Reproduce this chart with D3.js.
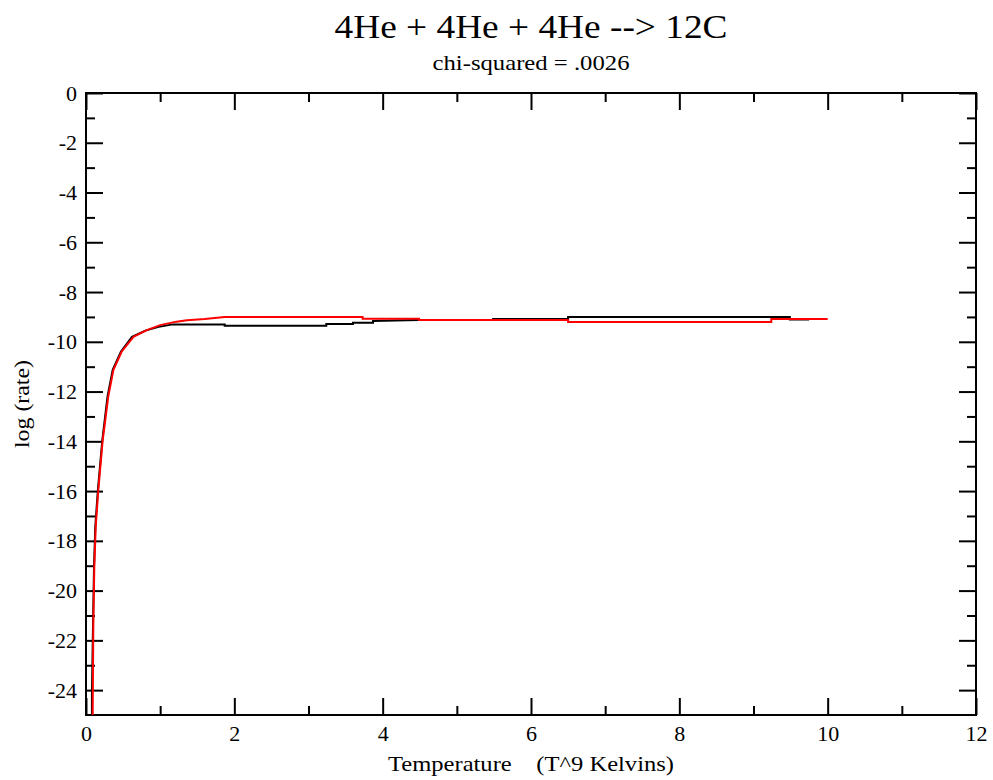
<!DOCTYPE html>
<html>
<head>
<meta charset="utf-8">
<script src="https://cdn.jsdelivr.net/npm/d3@7"></script>
<style>
  body { margin: 0; background: #fff; }
  svg text { font-family: "Liberation Serif", "DejaVu Serif", serif; fill: #000; }
</style>
</head>
<body>
<div id="chart"></div>
<script>
////data
const tempRed = [0.09, 0.099, 0.112, 0.131, 0.166, 0.225, 0.243, 0.30, 0.37, 0.48, 0.64, 0.82, 1.0, 1.22, 1.36, 1.6, 1.87, 3.73, 3.73, 4.49, 4.49, 6.5, 6.5, 9.24, 9.24, 10.0];
const rateRed = [-25, -21.3, -19.05, -17.44, -15.96, -13.95, -13.55, -12.2, -11.13, -10.4, -9.8, -9.53, -9.33, -9.19, -9.13, -9.08, -9.0, -9.0, -9.07, -9.07, -9.12, -9.12, -9.2, -9.2, -9.08, -9.08];

const tempBlack = [0.08, 0.08, 0.095, 0.108, 0.125, 0.16, 0.22, 0.29, 0.36, 0.47, 0.62, 0.80, 0.98, 1.17, 1.87, 1.87, 3.24, 3.24, 3.6, 3.6, 3.87, 3.87, 4.49, 5.49, 5.49, 6.5, 6.5, 9.49, 9.49, 9.75];
const rateBlack = [-25, -24.2, -21.3, -19.05, -17.44, -15.96, -13.95, -12.2, -11.13, -10.4, -9.8, -9.55, -9.4, -9.3, -9.3, -9.35, -9.35, -9.28, -9.28, -9.23, -9.23, -9.16, -9.12, -9.12, -9.08, -9.08, -9.0, -9.0, -9.1, -9.1];

const xTicks = [0, 2, 4, 6, 8, 10, 12];
const yTicks = [0, -2, -4, -6, -8, -10, -12, -14, -16, -18, -20, -22, -24];

const margin = {top: 93, right: 17, bottom: 65, left: 86};
const width = 993 - margin.left - margin.right;
const height = 780 - margin.top - margin.bottom;

const svg = d3.select('#chart').append('svg')
    .attr('width', 993)
    .attr('height', 780);

const g = svg.append('g')
    .attr('transform', `translate(${margin.left},${margin.top})`);

const x = d3.scaleLinear().domain([0, 12]).range([0, width]);
const y = d3.scaleLinear().domain([-25, 0]).range([height, 0]);

////minor ticks on the odd values
const xMinor = d3.range(1, 12, 2);
const yMinor = d3.range(-1, -25, -2);

const major = 17, minor = 9;
const fmt = d => String(d);   ////plain hyphen, not the unicode minus

// bottom + top
g.append('g').attr('transform', `translate(0,${height})`)
  .call(d3.axisBottom(x).tickValues(xTicks).tickSize(-major).tickPadding(10).tickFormat(fmt));
g.append('g').attr('transform', `translate(0,${height})`)
  .call(d3.axisBottom(x).tickValues(xMinor).tickSize(-minor).tickFormat(''));
g.append('g')
  .call(d3.axisTop(x).tickValues(xTicks).tickSize(-major).tickFormat(''));
g.append('g')
  .call(d3.axisTop(x).tickValues(xMinor).tickSize(-minor).tickFormat(''));

// left + right
g.append('g')
  .call(d3.axisLeft(y).tickValues(yTicks).tickSize(-major).tickPadding(9).tickFormat(fmt));
g.append('g')
  .call(d3.axisLeft(y).tickValues(yMinor).tickSize(-minor).tickFormat(''));
g.append('g').attr('transform', `translate(${width},0)`)
  .call(d3.axisRight(y).tickValues(yTicks).tickSize(-major).tickFormat(''));
g.append('g').attr('transform', `translate(${width},0)`)
  .call(d3.axisRight(y).tickValues(yMinor).tickSize(-minor).tickFormat(''));

g.selectAll('.domain').remove();
g.selectAll('.tick line').attr('stroke', '#000').attr('stroke-width', 2);
g.selectAll('g').attr('font-family', 'Liberation Serif').attr('font-size', 22);
g.selectAll('.tick text').attr('font-family', 'Liberation Serif').style('font-size', '22px');

// frame
g.append('rect')
  .attr('width', width).attr('height', height)
  .attr('fill', 'none').attr('stroke', '#000').attr('stroke-width', 2);

const line = d3.line().x(d => x(d[0])).y(d => y(d[1]));

g.append('path')
  .datum(tempBlack.map((t, i) => [t, rateBlack[i]]))
  .attr('d', line)
  .attr('fill', 'none').attr('stroke', '#000').attr('stroke-width', 2);

g.append('path')
  .datum(tempRed.map((t, i) => [t, rateRed[i]]))
  .attr('d', line)
  .attr('fill', 'none').attr('stroke', '#ff0000').attr('stroke-width', 2);

////titles - the original text is a bit wider than Times, so stretch a little
svg.append('text').text('4He + 4He + 4He --> 12C')
  .attr('x', margin.left + width / 2).attr('y', 38)
  .attr('text-anchor', 'middle').style('font-size', '33px')
  .attr('textLength', 393).attr('lengthAdjust', 'spacingAndGlyphs');
svg.append('text').text('chi-squared = .0026')
  .attr('x', margin.left + width / 2).attr('y', 70)
  .attr('text-anchor', 'middle').style('font-size', '22px')
  .attr('textLength', 197).attr('lengthAdjust', 'spacingAndGlyphs');

svg.append('text').text('Temperature    (T^9 Kelvins)')
  .attr('x', margin.left + width / 2).attr('y', 771)
  .attr('text-anchor', 'middle').style('font-size', '22px')
  .style('white-space', 'pre')
  .attr('textLength', 286).attr('lengthAdjust', 'spacingAndGlyphs');

svg.append('text').text('log (rate)')
  .attr('transform', `translate(29,${margin.top + height / 2}) rotate(-90)`)
  .attr('text-anchor', 'middle').style('font-size', '22px')
  .attr('textLength', 88).attr('lengthAdjust', 'spacingAndGlyphs');
</script>
</body>
</html>
